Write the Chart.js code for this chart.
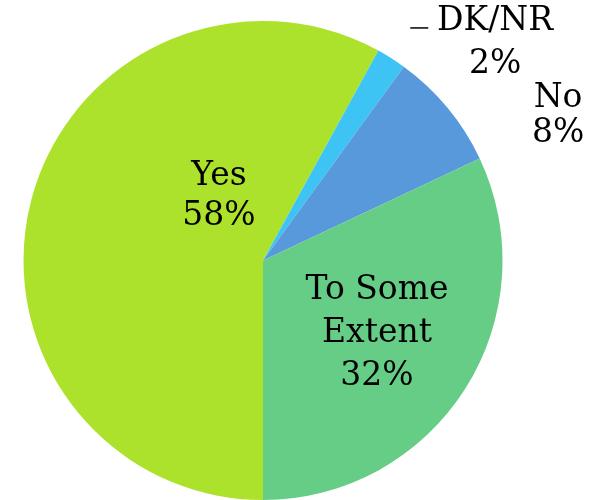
<!DOCTYPE html>
<html>
<head>
<meta charset="utf-8">
<script src="https://cdn.jsdelivr.net/npm/chart.js@4.4.1/dist/chart.umd.min.js"></script>
<style>
  html, body { margin: 0; padding: 0; background: #fff; }
  #wrap { width: 592px; height: 500px; position: relative; }
</style>
</head>
<body>
<div id="wrap"><canvas id="pieChart"></canvas></div>
<script>
// Data
const labels = ['Yes', 'DK/NR', 'No', 'To Some Extent'];
const values = [58, 2, 8, 32];
const colors = ['#ade22c', '#3ec3f5', '#5899db', '#66cd87'];

// label text lines + block offsets relative to pie centre (in radius units)
const labelLines = [['Yes', '58%'], ['DK/NR', '2%'], ['No', '8%'], ['To Some', 'Extent', '32%']];
const labelOffsets = [[-0.184, -0.267], [0.969, -0.91], [1.232, -0.603], [0.476, 0.303]];
const lineHeights = [40, 43, 35, 43];

const sliceLabels = {
    id: 'sliceLabels',
    afterDatasetsDraw(chart) {
        const ctx = chart.ctx;
        const arcs = chart.getDatasetMeta(0).data;
        ctx.save();
        ctx.fillStyle = '#000';
        ctx.strokeStyle = '#000';
        ctx.font = '33px "DejaVu Serif", "Liberation Serif", serif';
        ctx.textAlign = 'center';
        ctx.textBaseline = 'middle';
        arcs.forEach((arc, i) => {
            const r = arc.outerRadius;
            const cx = arc.x + labelOffsets[i][0] * r;
            const cy = arc.y + labelOffsets[i][1] * r;
            const lines = labelLines[i];
            const lh = lineHeights[i];
            const y0 = cy - (lines.length - 1) * lh / 2;
            lines.forEach((t, j) => ctx.fillText(t, cx, y0 + j * lh));
        });
        // small leader stub next to DK/NR
        const a = arcs[1];
        ctx.lineWidth = 1.5;
        ctx.beginPath();
        ctx.moveTo(a.x + 0.615 * a.outerRadius, a.y - 0.971 * a.outerRadius);
        ctx.lineTo(a.x + 0.69 * a.outerRadius, a.y - 0.971 * a.outerRadius);
        ctx.stroke();
        ctx.restore();
    }
};

new Chart(document.getElementById('pieChart'), {
    type: 'pie',
    data: {
        labels: labels,
        datasets: [{
            data: values,
            backgroundColor: colors,
            borderWidth: 0
        }]
    },
    options: {
        responsive: true,
        maintainAspectRatio: false,
        animation: false,
        rotation: 180,
        layout: { padding: { left: 23, right: 89, top: 21, bottom: 0 } },
        plugins: {
            legend: { display: false },
            tooltip: { enabled: false }
        }
    },
    plugins: [sliceLabels]
});
</script>
</body>
</html>
